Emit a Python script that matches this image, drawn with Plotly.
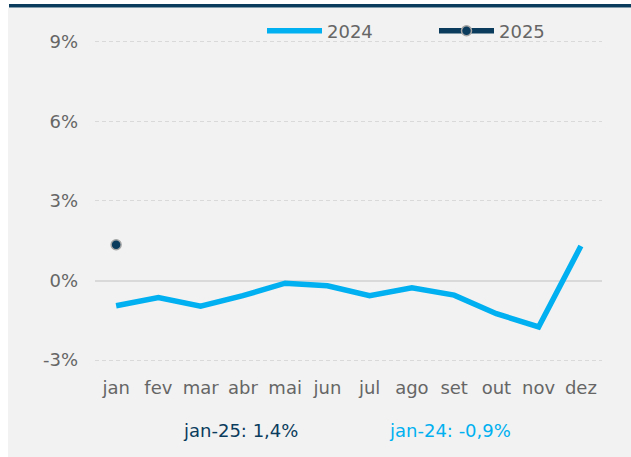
import plotly.graph_objects as go

months = ["jan", "fev", "mar", "abr", "mai", "jun", "jul", "ago", "set", "out", "nov", "dez"]
values_2024 = [-0.95, -0.64, -0.97, -0.57, -0.1, -0.2, -0.57, -0.27, -0.55, -1.25, -1.75, 1.3]
months_2025 = ["jan"]
values_2025 = [1.35]
tick_vals = [-3, 0, 3, 6, 9]
tick_text = ["-3%", "0%", "3%", "6%", "9%"]
note_2025 = "jan-25: 1,4%"
note_2024 = "jan-24: -0,9%"

W, H = 631, 457
ML, MR, MT, MB = 95, 29, 30, 87
PW, PH = W - ML - MR, H - MT - MB

def px(x):
    return (x - ML) / PW

def py(y):
    return 1 - (y - MT) / PH

LIGHT = "#00b0f0"
NAVY = "#0b3c5d"
GREY = "#666666"
PANEL = "#f2f2f2"
FONT = "DejaVu Sans"

fig = go.Figure()
fig.add_trace(go.Scatter(
    x=months, y=values_2024, name="2024", mode="lines",
    line=dict(color=LIGHT, width=5.5),
))
fig.add_trace(go.Scatter(
    x=months_2025, y=values_2025, name="2025", mode="lines+markers",
    line=dict(color=NAVY, width=5.5),
    marker=dict(color=NAVY, size=10, line=dict(color="#a6a6a6", width=1.5)),
))

# white frame strips (left and top), and the navy top rule
fig.add_shape(type="rect", xref="paper", yref="paper",
              x0=px(-5), x1=px(8), y0=py(H + 5), y1=py(-5),
              fillcolor="white", line=dict(width=0), layer="below")
fig.add_shape(type="rect", xref="paper", yref="paper",
              x0=px(-5), x1=px(W + 5), y0=py(8), y1=py(-5),
              fillcolor="white", line=dict(width=0), layer="below")
fig.add_shape(type="rect", xref="paper", yref="paper",
              x0=px(9), x1=px(W + 5), y0=py(7.5), y1=py(4),
              fillcolor=NAVY, line=dict(width=0), layer="below")

fig.add_annotation(text=note_2025, xref="paper", yref="paper",
                   x=px(240), y=py(430), xanchor="center", yanchor="middle",
                   showarrow=False, font=dict(family=FONT, size=18, color=NAVY))
fig.add_annotation(text=note_2024, xref="paper", yref="paper",
                   x=px(450), y=py(430), xanchor="center", yanchor="middle",
                   showarrow=False, font=dict(family=FONT, size=18, color=LIGHT))

fig.update_layout(
    width=W, height=H,
    margin=dict(l=ML, r=MR, t=MT, b=MB, autoexpand=False),
    paper_bgcolor=PANEL, plot_bgcolor="rgba(0,0,0,0)",
    font=dict(family=FONT, color=GREY, size=18),
    showlegend=True,
    legend=dict(orientation="h", xref="paper", yref="paper",
                x=px(262), y=py(31), xanchor="left", yanchor="middle",
                bgcolor="rgba(0,0,0,0)", font=dict(size=18, color=GREY),
                itemwidth=55, entrywidth=102),
    xaxis=dict(showgrid=False, showline=False, ticks="", tickfont=dict(size=18, color=GREY),
               range=[-0.5, 11.5], ticklabelstandoff=5),
    yaxis=dict(range=[-3.375, 9.45], tickvals=tick_vals, ticktext=tick_text,
               showgrid=True, gridcolor="#d9d9d9", griddash="4px,3px", gridwidth=1,
               zeroline=True, zerolinecolor="#d9d9d9", zerolinewidth=2,
               ticks="", tickfont=dict(size=18, color=GREY), ticklabelstandoff=16),
)

fig.write_html("out.html", config={"displayModeBar": False},
               post_script="document.body.style.margin='0px';")
